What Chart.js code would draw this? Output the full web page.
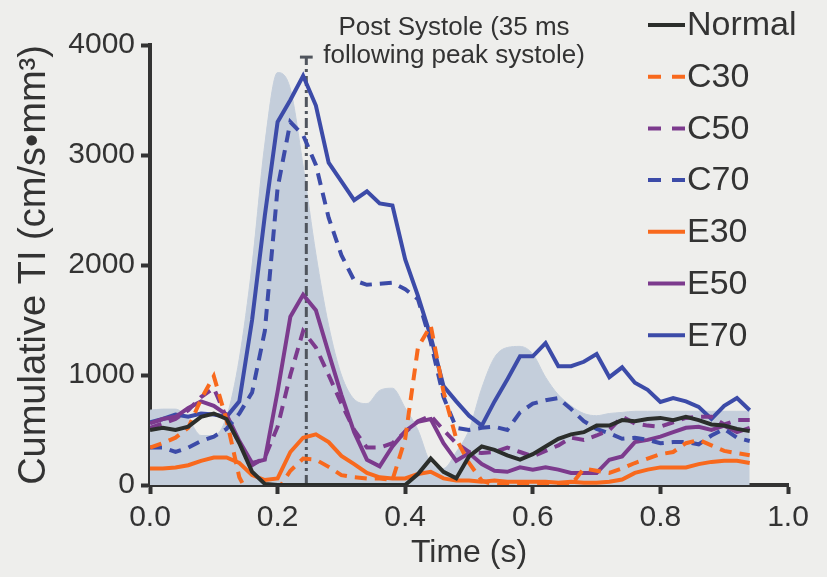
<!DOCTYPE html>
<html>
<head>
<meta charset="utf-8">
<title>Cumulative TI</title>
<script src="https://cdn.jsdelivr.net/npm/chart.js@4.4.1/dist/chart.umd.min.js"></script>
<style>
	html, body { margin: 0; padding: 0; background: #eeeeec; }
	#wrap { width: 827px; height: 577px; }
</style>
</head>
<body>
<div id="wrap"><canvas id="tiChart" width="827" height="577"></canvas></div>
<script>
const times = [0.00, 0.02, 0.04, 0.06, 0.08, 0.10, 0.12, 0.14, 0.16, 0.18, 0.20, 0.22, 0.24, 0.26, 0.28, 0.30, 0.32, 0.34, 0.36, 0.38, 0.40, 0.42, 0.44, 0.46, 0.48, 0.50, 0.52, 0.54, 0.56, 0.58, 0.60, 0.62, 0.64, 0.66, 0.68, 0.70, 0.72, 0.74, 0.76, 0.78, 0.80, 0.82, 0.84, 0.86, 0.88, 0.90, 0.92, 0.94];

const normal = [500, 520, 500, 530, 620, 650, 600, 380, 120, 10, 0, 0, 0, 0, 0, 0, 0, 0, 0, 0, 0, 100, 240, 120, 60, 260, 350, 320, 270, 230, 280, 350, 420, 460, 480, 540, 540, 590, 580, 600, 610, 590, 620, 590, 550, 540, 510, 490];
const c30 = [340, 380, 430, 520, 780, 990, 590, 70, -150, -150, -50, 130, 240, 230, 165, 90, 70, 60, 60, 45, 420, 1250, 1450, 850, 420, 200, 40, 0, 0, 0, 0, 0, 0, 0, 150, 130, 110, 150, 200, 240, 280, 300, 380, 410, 360, 310, 290, 270];
const c50 = [520, 560, 600, 680, 800, 880, 610, 380, 180, 250, 530, 1000, 1400, 1250, 1000, 740, 500, 340, 340, 380, 480, 580, 630, 500, 380, 300, 290, 300, 340, 300, 260, 310, 360, 430, 410, 450, 500, 620, 560, 540, 530, 570, 610, 620, 620, 550, 590, 590];
const c70 = [340, 340, 300, 340, 400, 440, 510, 650, 840, 1400, 2700, 3300, 3180, 2910, 2430, 2090, 1860, 1820, 1830, 1840, 1780, 1690, 1300, 800, 520, 500, 520, 530, 500, 660, 740, 770, 790, 690, 580, 510, 470, 420, 430, 410, 380, 390, 390, 370, 450, 510, 430, 400];
const e30 = [150, 150, 160, 180, 220, 250, 250, 200, 90, 45, 60, 300, 430, 460, 390, 265, 190, 110, 70, 60, 60, 100, 120, 60, 40, 40, 30, 40, 30, 30, 30, 30, 20, 30, 20, 20, 30, 50, 110, 140, 160, 160, 160, 190, 210, 220, 220, 200];
const e50 = [560, 600, 620, 700, 760, 720, 640, 400, 200, 230, 850, 1530, 1730, 1590, 1200, 820, 480, 230, 170, 350, 490, 575, 600, 380, 220, 290, 190, 130, 120, 160, 140, 160, 140, 110, 110, 110, 230, 260, 390, 410, 440, 480, 520, 530, 500, 540, 480, 520];
const e70 = [570, 600, 640, 620, 650, 640, 620, 760, 1500, 2450, 3300, 3500, 3720, 3450, 2930, 2760, 2590, 2670, 2560, 2540, 2050, 1720, 1350, 900, 760, 630, 540, 760, 960, 1170, 1170, 1290, 1080, 1080, 1120, 1190, 980, 1070, 930, 865, 755, 790, 760, 710, 600, 720, 790, 680];

// grey reference profile behind the curves
const reference = [680, 690, 690, 600, 450, 450, 620, 1150, 2000, 3100, 3750, 3600, 2900, 2100, 1450, 1000, 780, 740, 860, 880, 700, 500, 200, 150, 300, 500, 880, 1160, 1250, 1260, 1190, 980, 820, 720, 650, 630, 650, 660, 670, 670, 670, 670, 670, 670, 670, 670, 670, 670];

const peakTime = 0.245;
const peakCap = 3890;
const noteLines = ["Post Systole (35 ms", "following peak systole)"];

const xTicks = [0, 0.2, 0.4, 0.6, 0.8, 1.0];
const yTicks = [0, 1000, 2000, 3000, 4000];

const ORANGE = "#f8691d";
const PURPLE = "#7c3a8d";
const BLUE = "#3c4ba8";
const BLACK = "#2b2e2b";
const TEXT = "#333333";
const FONT = "'Liberation Sans', Arial, Helvetica, sans-serif";

function points(values) {
	return times.map((t, i) => ({ x: t, y: values[i] }));
}

function series(label, values, color, dashed) {
	return {
		label: label,
		data: points(values),
		borderColor: color,
		backgroundColor: color,
		borderWidth: 4,
		borderDash: dashed ? [12, 8] : [],
		pointRadius: 0,
		tension: 0,
		fill: false,
		isSeries: true,
	};
}

const legendPlugin = {
	id: "tiLegend",
	afterDraw(chart) {
		const ctx = chart.ctx;
		ctx.save();

		// annotation text above the peak marker
		ctx.fillStyle = TEXT;
		ctx.font = "26px " + FONT;
		ctx.textAlign = "center";
		ctx.textBaseline = "alphabetic";
		ctx.fillText(noteLines[0], 454, 35);
		ctx.fillText(noteLines[1], 454, 63);

		// legend column top right
		const items = chart.data.datasets.filter((d) => d.isSeries);
		ctx.font = "34px " + FONT;
		ctx.textAlign = "left";
		ctx.textBaseline = "middle";
		items.forEach((d, i) => {
			const y = 25 + i * 51.7;
			ctx.strokeStyle = d.borderColor;
			ctx.lineWidth = 4;
			ctx.setLineDash(d.borderDash.length ? [13, 11] : []);
			ctx.beginPath();
			ctx.moveTo(648, y);
			ctx.lineTo(685, y);
			ctx.stroke();
			ctx.fillStyle = TEXT;
			ctx.fillText(d.label, 687, y + 1);
		});
		ctx.restore();
	},
};

function initChart() {
	const ctx = document.getElementById("tiChart").getContext("2d");

	new Chart(ctx, {
		type: "line",
		data: {
			datasets: [
				series("Normal", normal, BLACK, false),
				series("C30", c30, ORANGE, true),
				series("C50", c50, PURPLE, true),
				series("C70", c70, BLUE, true),
				series("E30", e30, ORANGE, false),
				series("E50", e50, PURPLE, false),
				series("E70", e70, BLUE, false),
				{
					label: "peak",
					data: [
						{ x: peakTime, y: 0 },
						{ x: peakTime, y: peakCap },
					],
					borderColor: "#50555d",
					borderWidth: 3,
					borderDash: [10, 4, 3, 4],
					pointRadius: 0,
					order: 9,
				},
				{
					label: "cap",
					data: [
						{ x: peakTime - 0.01, y: peakCap },
						{ x: peakTime + 0.01, y: peakCap },
					],
					borderColor: "#50555d",
					borderWidth: 3,
					pointRadius: 0,
					order: 9,
				},
				{
					label: "reference",
					data: points(reference),
					borderColor: "#c4cedb",
					backgroundColor: "#c4cedb",
					borderWidth: 1,
					pointRadius: 0,
					cubicInterpolationMode: "monotone",
					fill: "origin",
					order: 10,
				},
			],
		},
		options: {
			responsive: false,
			animation: false,
			events: [],
			layout: {
				padding: { left: 0, right: 39, top: 45, bottom: 0 },
			},
			plugins: {
				legend: { display: false },
				tooltip: { enabled: false },
			},
			scales: {
				x: {
					type: "linear",
					min: 0,
					max: 1,
					afterFit: (scale) => {
						scale.height = 92;
					},
					afterBuildTicks: (scale) => {
						scale.ticks = xTicks.map((v) => ({ value: v }));
					},
					ticks: {
						color: TEXT,
						font: { family: FONT, size: 30 },
						padding: 6,
						maxRotation: 0,
						callback: (value) => Number(value).toFixed(1),
					},
					grid: {
						display: true,
						drawOnChartArea: false,
						drawTicks: true,
						tickLength: 9,
						tickWidth: 4,
						tickColor: TEXT,
					},
					border: { display: true, color: TEXT, width: 4 },
					title: {
						display: true,
						text: "Time (s)",
						color: TEXT,
						font: { family: FONT, size: 32 },
						padding: { top: 0, bottom: 5 },
					},
				},
				y: {
					min: 0,
					max: 4000,
					afterFit: (scale) => {
						scale.width = 150;
					},
					afterBuildTicks: (scale) => {
						scale.ticks = yTicks.map((v) => ({ value: v }));
					},
					ticks: {
						color: TEXT,
						font: { family: FONT, size: 30 },
						padding: 6,
						callback: (value) => String(value),
					},
					grid: {
						display: true,
						drawOnChartArea: false,
						drawTicks: true,
						tickLength: 9,
						tickWidth: 4,
						tickColor: TEXT,
					},
					border: { display: true, color: TEXT, width: 4 },
					title: {
						display: true,
						text: "Cumulative TI (cm/s•mm³)",
						color: TEXT,
						font: { family: FONT, size: 38 },
						padding: { top: 12, bottom: 0 },
					},
				},
			},
		},
		plugins: [legendPlugin],
	});
}

initChart();
</script>
</body>
</html>
